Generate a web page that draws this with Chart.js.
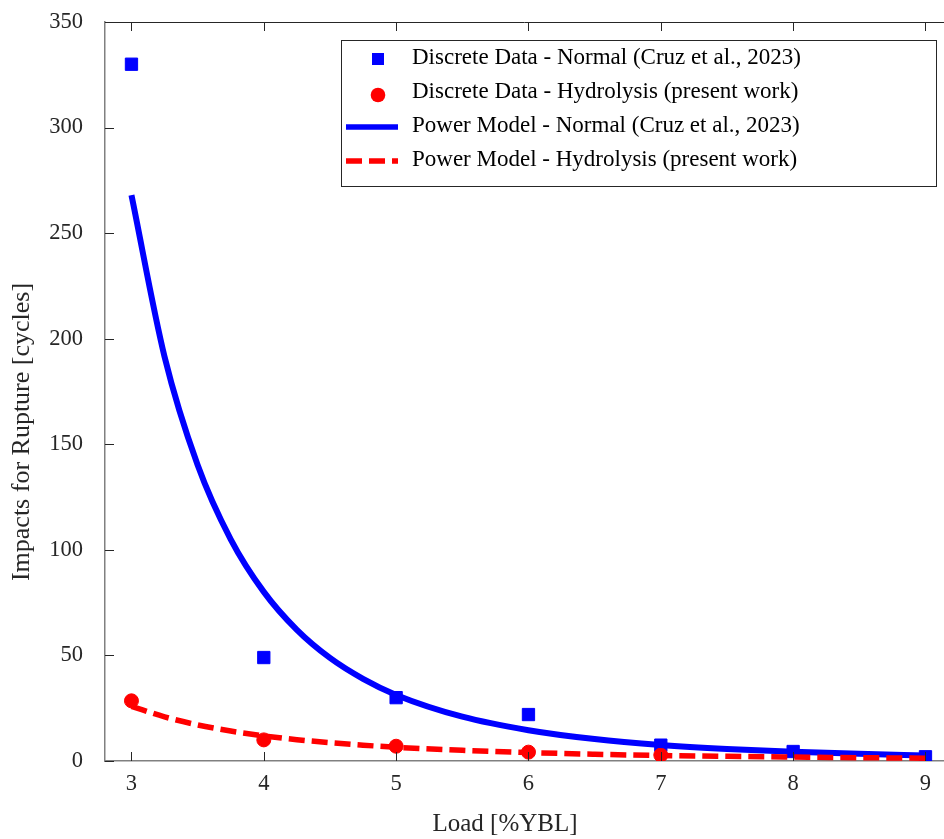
<!DOCTYPE html>
<html>
<head>
<meta charset="utf-8">
<script src="https://cdn.jsdelivr.net/npm/chart.js@4.4.0/dist/chart.umd.min.js"></script>
<style>
    html, body { margin: 0; padding: 0; background: #fff; overflow: hidden; }
    #wrap { width: 944px; height: 839px; position: relative; }
</style>
</head>
<body>
<div id="wrap"><canvas id="impact_chart"></canvas></div>
<script>
// measured points
var loads = [3, 4, 5, 6, 7, 8, 9]
var normalImpacts = [330, 49, 30, 22, 7.5, 4.5, 2]
var hydroLoads = [3, 4, 5, 6, 7]
var hydroImpacts = [28.5, 10, 7, 4.2, 2.8]

// fitted power curves
var modelLoads = [3, 3.25, 3.5, 3.75, 4, 4.25, 4.5, 4.75, 5, 5.5, 6, 6.5, 7, 7.5, 8, 8.5, 9]
var normalModel = [268, 191.5, 140.2, 105, 80.1, 62.1, 48.8, 38.9, 31.3, 21, 14.6, 10.4, 7.6, 5.7, 4.35, 3.4, 2.65]
var hydroModel = [25.9, 20.9, 17.1, 14.2, 11.9, 10.1, 8.7, 7.5, 6.5, 5.05, 4.0, 3.2, 2.6, 2.2, 1.85, 1.55, 1.35]

var xTicks = [3, 4, 5, 6, 7, 8, 9]
var yTicks = [0, 50, 100, 150, 200, 250, 300, 350]

var legendLabels = [
    'Discrete Data - Normal (Cruz et al., 2023)',
    'Discrete Data - Hydrolysis (present work)',
    'Power Model - Normal (Cruz et al., 2023)',
    'Power Model - Hydrolysis (present work)'
]

var serif = "'Liberation Serif', 'Times New Roman', serif"
var textColor = '#262626'

function toPoints(xs, ys) {
    return xs.map((x, i) => ({ x: x, y: ys[i] }))
}

// spines, inward ticks, axis titles and the boxed legend
const decorPlugin = {
    id: 'decor',
    afterDraw(chart) {
        const ctx = chart.ctx
        const area = chart.chartArea
        const xs = chart.scales.x
        const ys = chart.scales.y
        ctx.save()

        ctx.strokeStyle = '#262626'
        ctx.lineWidth = 1
        ctx.beginPath()
        ctx.moveTo(area.left, area.top + 0.5)
        ctx.lineTo(area.right, area.top + 0.5)
        xTicks.forEach(v => {
            const px = Math.round(xs.getPixelForValue(v)) + 0.5
            ctx.moveTo(px, area.top)
            ctx.lineTo(px, area.top + 9)
            ctx.moveTo(px, area.bottom)
            ctx.lineTo(px, area.bottom - 9)
        })
        yTicks.forEach(v => {
            const py = Math.round(ys.getPixelForValue(v)) + 0.5
            ctx.moveTo(area.left, py)
            ctx.lineTo(area.left + 9, py)
        })
        ctx.stroke()

        // axis titles
        ctx.fillStyle = textColor
        ctx.font = '25px ' + serif
        ctx.textAlign = 'center'
        ctx.textBaseline = 'middle'
        ctx.fillText('Load [%YBL]', 505, 824)
        ctx.save()
        ctx.translate(22, 432)
        ctx.rotate(-Math.PI / 2)
        ctx.font = '26px ' + serif
        ctx.fillText('Impacts for Rupture [cycles]', 0, 0)
        ctx.restore()

        // legend box
        const box = { left: 341, top: 40, right: 936, bottom: 186 }
        ctx.fillStyle = '#fff'
        ctx.fillRect(box.left, box.top, box.right - box.left, box.bottom - box.top)
        ctx.strokeStyle = '#262626'
        ctx.strokeRect(box.left + 0.5, box.top + 0.5, box.right - box.left, box.bottom - box.top)

        const rows = [58, 92, 126, 160]
        // square
        ctx.fillStyle = '#0000ff'
        ctx.fillRect(372, rows[0] - 5, 12, 12)
        // circle
        ctx.fillStyle = '#ff0000'
        ctx.beginPath()
        ctx.arc(378, rows[1] + 3, 7.3, 0, Math.PI * 2)
        ctx.fill()
        // solid line
        ctx.strokeStyle = '#0000ff'
        ctx.lineWidth = 5.5
        ctx.beginPath()
        ctx.moveTo(346, rows[2] + 1)
        ctx.lineTo(398, rows[2] + 1)
        ctx.stroke()
        // dashed line
        ctx.strokeStyle = '#ff0000'
        ctx.setLineDash([16, 7])
        ctx.beginPath()
        ctx.moveTo(346, rows[3] + 1)
        ctx.lineTo(398, rows[3] + 1)
        ctx.stroke()
        ctx.setLineDash([])

        ctx.fillStyle = '#000'
        ctx.font = '23px ' + serif
        ctx.textAlign = 'left'
        legendLabels.forEach((label, i) => {
            ctx.fillText(label, 412, rows[i])
        })

        ctx.restore()
    }
}

function drawGraph() {
    var ctx = document.getElementById('impact_chart').getContext('2d')
    var chart = new Chart(ctx, {
        type: 'scatter',
        data: {
            datasets: [
                {
                    label: legendLabels[3],
                    type: 'line',
                    data: toPoints(modelLoads, hydroModel),
                    borderColor: '#ff0000',
                    borderWidth: 5.5,
                    borderDash: [16, 7],
                    pointRadius: 0,
                    cubicInterpolationMode: 'monotone',
                    fill: false,
                    order: 0
                },
                {
                    label: legendLabels[2],
                    type: 'line',
                    data: toPoints(modelLoads, normalModel),
                    borderColor: '#0000ff',
                    borderWidth: 6,
                    pointRadius: 0,
                    cubicInterpolationMode: 'monotone',
                    fill: false,
                    order: 1
                },
                {
                    label: legendLabels[1],
                    data: toPoints(hydroLoads, hydroImpacts),
                    pointStyle: 'circle',
                    pointRadius: 7,
                    pointBorderWidth: 1,
                    backgroundColor: '#ff0000',
                    borderColor: '#ff0000',
                    order: 2
                },
                {
                    label: legendLabels[0],
                    data: toPoints(loads, normalImpacts),
                    pointStyle: 'rect',
                    pointRadius: 8.7,
                    pointBorderWidth: 1,
                    backgroundColor: '#0000ff',
                    borderColor: '#0000ff',
                    order: 3
                }
            ]
        },
        options: {
            responsive: true,
            maintainAspectRatio: false,
            animation: false,
            layout: { autoPadding: false, padding: { top: 22, right: 0, left: 0, bottom: 0 } },
            plugins: {
                legend: { display: false },
                tooltip: { enabled: false }
            },
            scales: {
                x: {
                    type: 'linear',
                    min: 2.8,
                    max: 9.14,
                    afterBuildTicks: scale => { scale.ticks = xTicks.map(v => ({ value: v })) },
                    afterFit: scale => {
                        scale.height = 78
                        scale.paddingLeft = 0
                        scale.paddingRight = 0
                    },
                    grid: { display: false, drawTicks: false },
                    border: { display: true, color: '#808080', width: 1.5 },
                    ticks: {
                        padding: 10,
                        color: textColor,
                        font: { family: serif, size: 22.5 },
                        maxRotation: 0
                    }
                },
                y: {
                    type: 'linear',
                    min: 0,
                    max: 350,
                    afterBuildTicks: scale => { scale.ticks = yTicks.map(v => ({ value: v })) },
                    afterFit: scale => {
                        scale.width = 105
                        scale.paddingTop = 0
                        scale.paddingBottom = 0
                    },
                    grid: { display: false, drawTicks: false },
                    border: { display: true, color: '#808080', width: 1.5 },
                    ticks: {
                        padding: 22,
                        color: textColor,
                        font: { family: serif, size: 22.5 }
                    }
                }
            }
        },
        plugins: [decorPlugin]
    })
}

drawGraph()
</script>
</body>
</html>
